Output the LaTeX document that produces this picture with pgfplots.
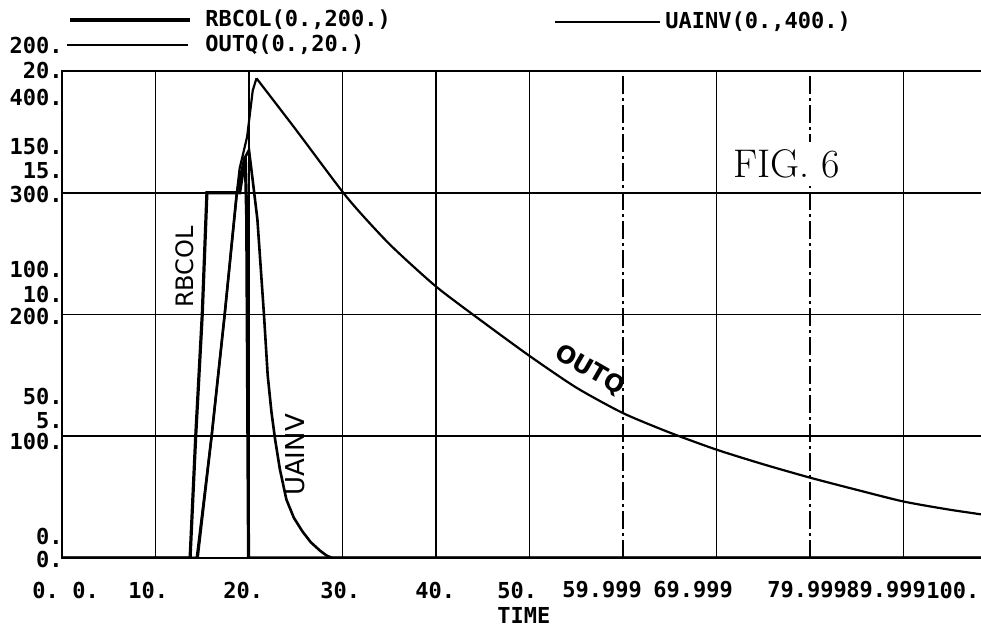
\documentclass[border=0pt]{standalone}
\usepackage{fontspec}
\usepackage{pgfplots}
\pgfplotsset{compat=1.18}
\newfontfamily\dm{DejaVu Sans Mono}
\newfontfamily\hw{DejaVu Sans}
\begin{document}
\begin{tikzpicture}
\useasboundingbox (0,0) rectangle (490.5pt,314.5pt);
\clip (0,0) rectangle (490.5pt,314.5pt);
\begin{axis}[
  at={(31pt,35.5pt)}, anchor=south west, scale only axis,
  width=467.5pt, height=243.5pt,
  xmin=0, xmax=100, ymin=0, ymax=20,
  xtick={10,20,30,40,50,70,90}, ytick={5,10,15},
  extra x ticks={60,80},
  extra x tick style={major grid style={black, line width=0.8pt, dash pattern=on 9pt off 2pt on 1.5pt off 2pt}},
  xticklabels={}, yticklabels={}, extra x tick labels={},
  major tick length=0pt,
  grid=major, major grid style={black, line width=0.9pt},
  axis line style={line width=1pt},
]
% RBCOL, scale 0..200
\addplot[black, line width=1.6pt, y filter/.expression={y/10}] coordinates {
(0,0) (13.7,0) (14.3,50) (15.0,100) (15.5,150) (19.0,150) (19.6,165)
(19.75,140) (19.85,70) (19.95,0) (100,0)};
% UAINV, scale 0..400
\addplot[black, line width=1.3pt, y filter/.expression={y/20}] coordinates {
(0,0) (14.5,0) (16.0,100) (17.4,200) (18.7,300) (19.5,328) (20.0,335)
(20.4,310) (20.9,278) (21.6,200) (22.0,150) (22.4,120) (22.8,97) (23.3,73)
(24.0,48) (24.8,33) (25.7,22) (26.6,13) (27.6,6) (28.3,2) (28.9,0) (100,0)};
% OUTQ, scale 0..20 (rise)
\addplot[black, line width=1.1pt] coordinates {
(0,0) (14.4,0) (16.0,5) (17.4,10) (18.7,15) (19.0,16.0) (19.8,17.3)
(20.4,19.2) (20.8,19.7)};
% OUTQ (decay)
\addplot[black, line width=1.1pt, smooth, tension=0.4] coordinates {
(20.8,19.7) (25,17.6) (30.5,14.8) (35,12.9) (40,11.15) (45,9.7) (50,8.3)
(55,7.0) (60,5.95) (65,5.15) (70,4.45) (75,3.85) (80,3.3) (85,2.8)
(90,2.32) (95,1.98) (100,1.7)};
\end{axis}
\begin{scope}[shift={(0pt,314.5pt)}, x=0.5pt, y=-0.5pt,
  lab/.style={inner sep=0pt, font=\dm\bfseries\fontsize{11}{13}\selectfont}]
% legend
\draw[line width=1.6pt] (70,20) -- (190,20);
\node[lab, anchor=west] at (205,20) {RBCOL(0.,200.)};
\draw[line width=1.1pt] (67,45) -- (188,45);
\node[lab, anchor=west] at (205,45) {OUTQ(0.,20.)};
\draw[line width=1.3pt] (555,22) -- (660,22);
\node[lab, anchor=west] at (665,22) {UAINV(0.,400.)};
% left labels
\node[lab, anchor=east] at (63,45) {200.};
\node[lab, anchor=east] at (63,70) {20.};
\node[lab, anchor=east] at (63,97) {400.};
\node[lab, anchor=east] at (63,146) {150.};
\node[lab, anchor=east] at (63,171) {15.};
\node[lab, anchor=east] at (63,194) {300.};
\node[lab, anchor=east] at (63,269) {100.};
\node[lab, anchor=east] at (63,294) {10.};
\node[lab, anchor=east] at (63,316) {200.};
\node[lab, anchor=east] at (63,396) {50.};
\node[lab, anchor=east] at (63,421) {5.};
\node[lab, anchor=east] at (63,441) {100.};
\node[lab, anchor=east] at (63,536) {0.};
\node[lab, anchor=east] at (63,559) {0.};
% bottom labels
\node[lab, anchor=west] at (32,590) {0.};
\node[lab, anchor=west] at (72,590) {0.};
\node[lab, anchor=west] at (128,590) {10.};
\node[lab, anchor=west] at (223,590) {20.};
\node[lab, anchor=west] at (320,590) {30.};
\node[lab, anchor=west] at (415,590) {40.};
\node[lab, anchor=west] at (497,590) {50.};
\node[lab, anchor=west] at (562,590) {59.999};
\node[lab, anchor=west] at (653,590) {69.999};
\node[lab, anchor=west] at (767,590) {79.999};
\node[lab, anchor=west] at (846,590) {89.999};
\node[lab, anchor=west] at (926,590) {100.};
\node[lab, anchor=west] at (497,615) {TIME};
% annotations
\node[inner sep=4pt, fill=white, anchor=west, font=\fontsize{20}{24}\selectfont] at (725,164) {FIG. 6};
\node[inner sep=0pt, rotate=90, font=\hw\fontsize{12}{14}\selectfont] at (185,267) {RBCOL};
\node[inner sep=0pt, rotate=90, font=\hw\fontsize{13}{15}\selectfont] at (295,455) {UAINV};
\node[inner sep=0pt, rotate=-30, font=\hw\bfseries\fontsize{12}{14}\selectfont] at (590,370) {OUTQ};
\end{scope}
\end{tikzpicture}
\end{document}
